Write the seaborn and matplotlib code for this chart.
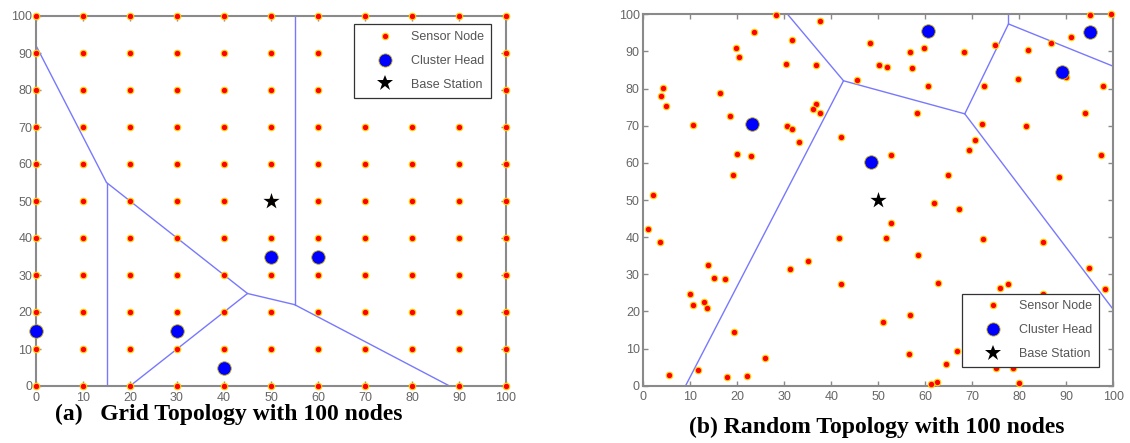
import itertools
import matplotlib
matplotlib.use("Agg")
import matplotlib.pyplot as plt
from matplotlib.lines import Line2D
import seaborn as sns
import pandas as pd

# ---------------- data ----------------
grid_vals = [0, 10, 20, 30, 40, 50, 60, 70, 80, 90, 100]
grid_head_x = [0, 30, 40, 50, 60]
grid_head_y = [15, 15, 5, 35, 35]
grid_base_x = [50]
grid_base_y = [50]
# Voronoi edges of grid topology: (x1, y1, x2, y2)
grid_edges = [
    (0, 92, 15, 55),
    (15, 55, 15, 0),
    (15, 55, 45, 25),
    (45, 25, 20, 0),
    (45, 25, 55, 22),
    (55, 22, 55, 100),
    (55, 22, 88, 0),
]

rand_x = [28.2, 37.6, 23.6, 31.6, 19.7, 20.3, 30.4, 36.7, 48.2, 50.1, 45.4, 4.1, 3.7, 4.9,
          16.3, 18.4, 10.6, 36.7, 36.0, 37.6, 30.6, 31.6, 33.1, 42.0, 19.9, 22.9, 19.0, 2.1,
          95.0, 99.5, 91.1, 86.7, 81.9, 74.9, 68.3, 59.8, 56.7, 51.9, 57.2, 60.6, 72.4, 79.8,
          90.0, 97.8, 58.3, 72.0, 81.4, 94.0, 70.6, 69.2, 52.8, 64.8, 88.4, 97.4,
          0.9, 3.6, 13.8, 15.0, 17.4, 9.9, 10.6, 13.0, 13.5, 19.4, 5.4, 11.6, 17.9, 22.1,
          25.9, 31.2, 35.1, 41.7, 42.0,
          61.9, 67.2, 52.6, 51.7, 72.2, 85.1, 58.4, 94.8, 98.2, 62.7, 75.9, 77.7, 85.1,
          50.9, 56.7, 56.5, 64.4, 66.7, 75.0, 78.6, 80.0, 62.5, 61.3]
rand_y = [99.7, 98.3, 95.1, 93.1, 91.0, 88.6, 86.6, 86.3, 92.3, 86.3, 82.2, 80.2, 78.1, 75.2,
          78.7, 72.6, 70.3, 75.8, 74.6, 73.4, 70.0, 69.1, 65.5, 67.0, 62.4, 61.8, 56.8, 51.3,
          99.7, 100.0, 93.9, 92.2, 90.5, 91.6, 89.8, 90.9, 89.8, 85.7, 85.6, 80.7, 80.7, 82.5,
          83.0, 80.7, 73.4, 70.5, 70.0, 73.4, 66.2, 63.5, 62.1, 56.8, 56.2, 62.1,
          42.2, 38.7, 32.5, 29.0, 28.7, 24.6, 21.7, 22.6, 20.8, 14.5, 3.0, 4.2, 2.4, 2.7,
          7.4, 31.3, 33.7, 39.9, 27.3,
          49.3, 47.5, 43.7, 39.9, 39.6, 38.7, 35.1, 31.7, 26.1, 27.6, 26.4, 27.3, 24.8,
          17.1, 19.1, 8.6, 5.9, 9.3, 4.7, 4.7, 0.7, 1.1, 0.4]
rand_head_x = [23.1, 48.4, 60.6, 95.0, 89.0]
rand_head_y = [70.5, 60.1, 95.6, 95.3, 84.4]
rand_base_x = [50]
rand_base_y = [50]
rand_edges = [
    (30.7, 100, 42.6, 82.1),
    (42.6, 82.1, 9.0, 0),
    (42.6, 82.1, 68.4, 73.2),
    (68.4, 73.2, 77.7, 97.4),
    (77.7, 97.4, 77.7, 100),
    (77.7, 97.4, 100, 86.0),
    (68.4, 73.2, 100, 20.5),
]

ticks = [0, 10, 20, 30, 40, 50, 60, 70, 80, 90, 100]
legend_labels = ["Sensor Node", "Cluster Head", "Base Station"]
title_a = "(a)   Grid Topology with 100 nodes"
title_b = "(b) Random Topology with 100 nodes"

# ---------------- style ----------------
sns.set_style("white")
plt.rcParams["font.family"] = ["Liberation Sans", "DejaVu Sans"]

RED = "#ff0000"
YEL = "#ffd400"
BLUE = "#0000ff"
VOR = "#7878ff"
FRAME = "#8a8a8a"
TXT = "#666666"

fig = plt.figure(figsize=(11.30, 4.43), dpi=100)
ax_a = fig.add_axes([36 / 1130, 57 / 443, 470 / 1130, 370 / 443])
ax_b = fig.add_axes([643.3 / 1130, 57.3 / 443, 470 / 1130, 371.4 / 443])

grid_df = pd.DataFrame(list(itertools.product(grid_vals, grid_vals)), columns=["x", "y"])


def draw(ax, sx, sy, hx, hy, bx, by, edges, leg_anchor):
    for (x1, y1, x2, y2) in edges:
        sns.lineplot(x=[x1, x2], y=[y1, y2], ax=ax, color=VOR, linewidth=1.0,
                     sort=False, estimator=None, zorder=2)
    sns.scatterplot(x=sx, y=sy, ax=ax, color=RED, edgecolor=YEL, linewidth=0.8,
                    s=22, marker="o", clip_on=False, zorder=4)
    sns.scatterplot(x=hx, y=hy, ax=ax, color=BLUE, edgecolor="#c8b400", linewidth=0.6,
                    s=95, marker="o", clip_on=False, zorder=5)
    sns.scatterplot(x=bx, y=by, ax=ax, color="black", edgecolor="black", linewidth=0,
                    s=150, marker="*", clip_on=False, zorder=6)
    ax.set_xlim(0, 100)
    ax.set_ylim(0, 100)
    ax.set_xticks(ticks)
    ax.set_yticks(ticks)
    ax.set_xlabel("")
    ax.set_ylabel("")
    for sp in ax.spines.values():
        sp.set_visible(True)
        sp.set_color(FRAME)
        sp.set_linewidth(1.5)
    ax.tick_params(direction="in", length=3.5, width=1, color=FRAME, labelcolor=TXT,
                   labelsize=9, top=True, right=True, bottom=True, left=True)
    ax.tick_params(axis="y", pad=2.5)
    ax.tick_params(axis="x", pad=4)
    handles = [
        Line2D([], [], linestyle="none", marker="o", markersize=4.6,
               markerfacecolor=RED, markeredgecolor=YEL, markeredgewidth=0.8),
        Line2D([], [], linestyle="none", marker="o", markersize=9.5,
               markerfacecolor=BLUE, markeredgecolor="#c8b400", markeredgewidth=0.6),
        Line2D([], [], linestyle="none", marker="*", markersize=12,
               markerfacecolor="black", markeredgecolor="black", markeredgewidth=0),
    ]
    leg = ax.legend(handles, legend_labels, loc="upper left", bbox_to_anchor=leg_anchor,
                    bbox_transform=ax.transAxes, borderaxespad=0, frameon=True,
                    fancybox=False, framealpha=1, edgecolor="#333333", fontsize=9,
                    labelcolor="#555555", handlelength=3.8, handletextpad=0.2,
                    borderpad=0.55, labelspacing=0.95)
    leg.get_frame().set_linewidth(0.9)
    leg.set_zorder(10)


draw(ax_a, grid_df["x"], grid_df["y"], grid_head_x, grid_head_y, grid_base_x, grid_base_y,
     grid_edges, (0.677, 0.978))
draw(ax_b, rand_x, rand_y, rand_head_x, rand_head_y, rand_base_x, rand_base_y,
     rand_edges, (0.678, 0.248))

fig.text(55 / 1130, 1 - 414 / 443, title_a, family=["Liberation Serif", "DejaVu Serif"],
         fontweight="bold", fontsize=17, ha="left", va="center", color="black")
fig.text(689 / 1130, 1 - 427 / 443, title_b, family=["Liberation Serif", "DejaVu Serif"],
         fontweight="bold", fontsize=17, ha="left", va="center", color="black")

fig.savefig("out.png", dpi=100)
